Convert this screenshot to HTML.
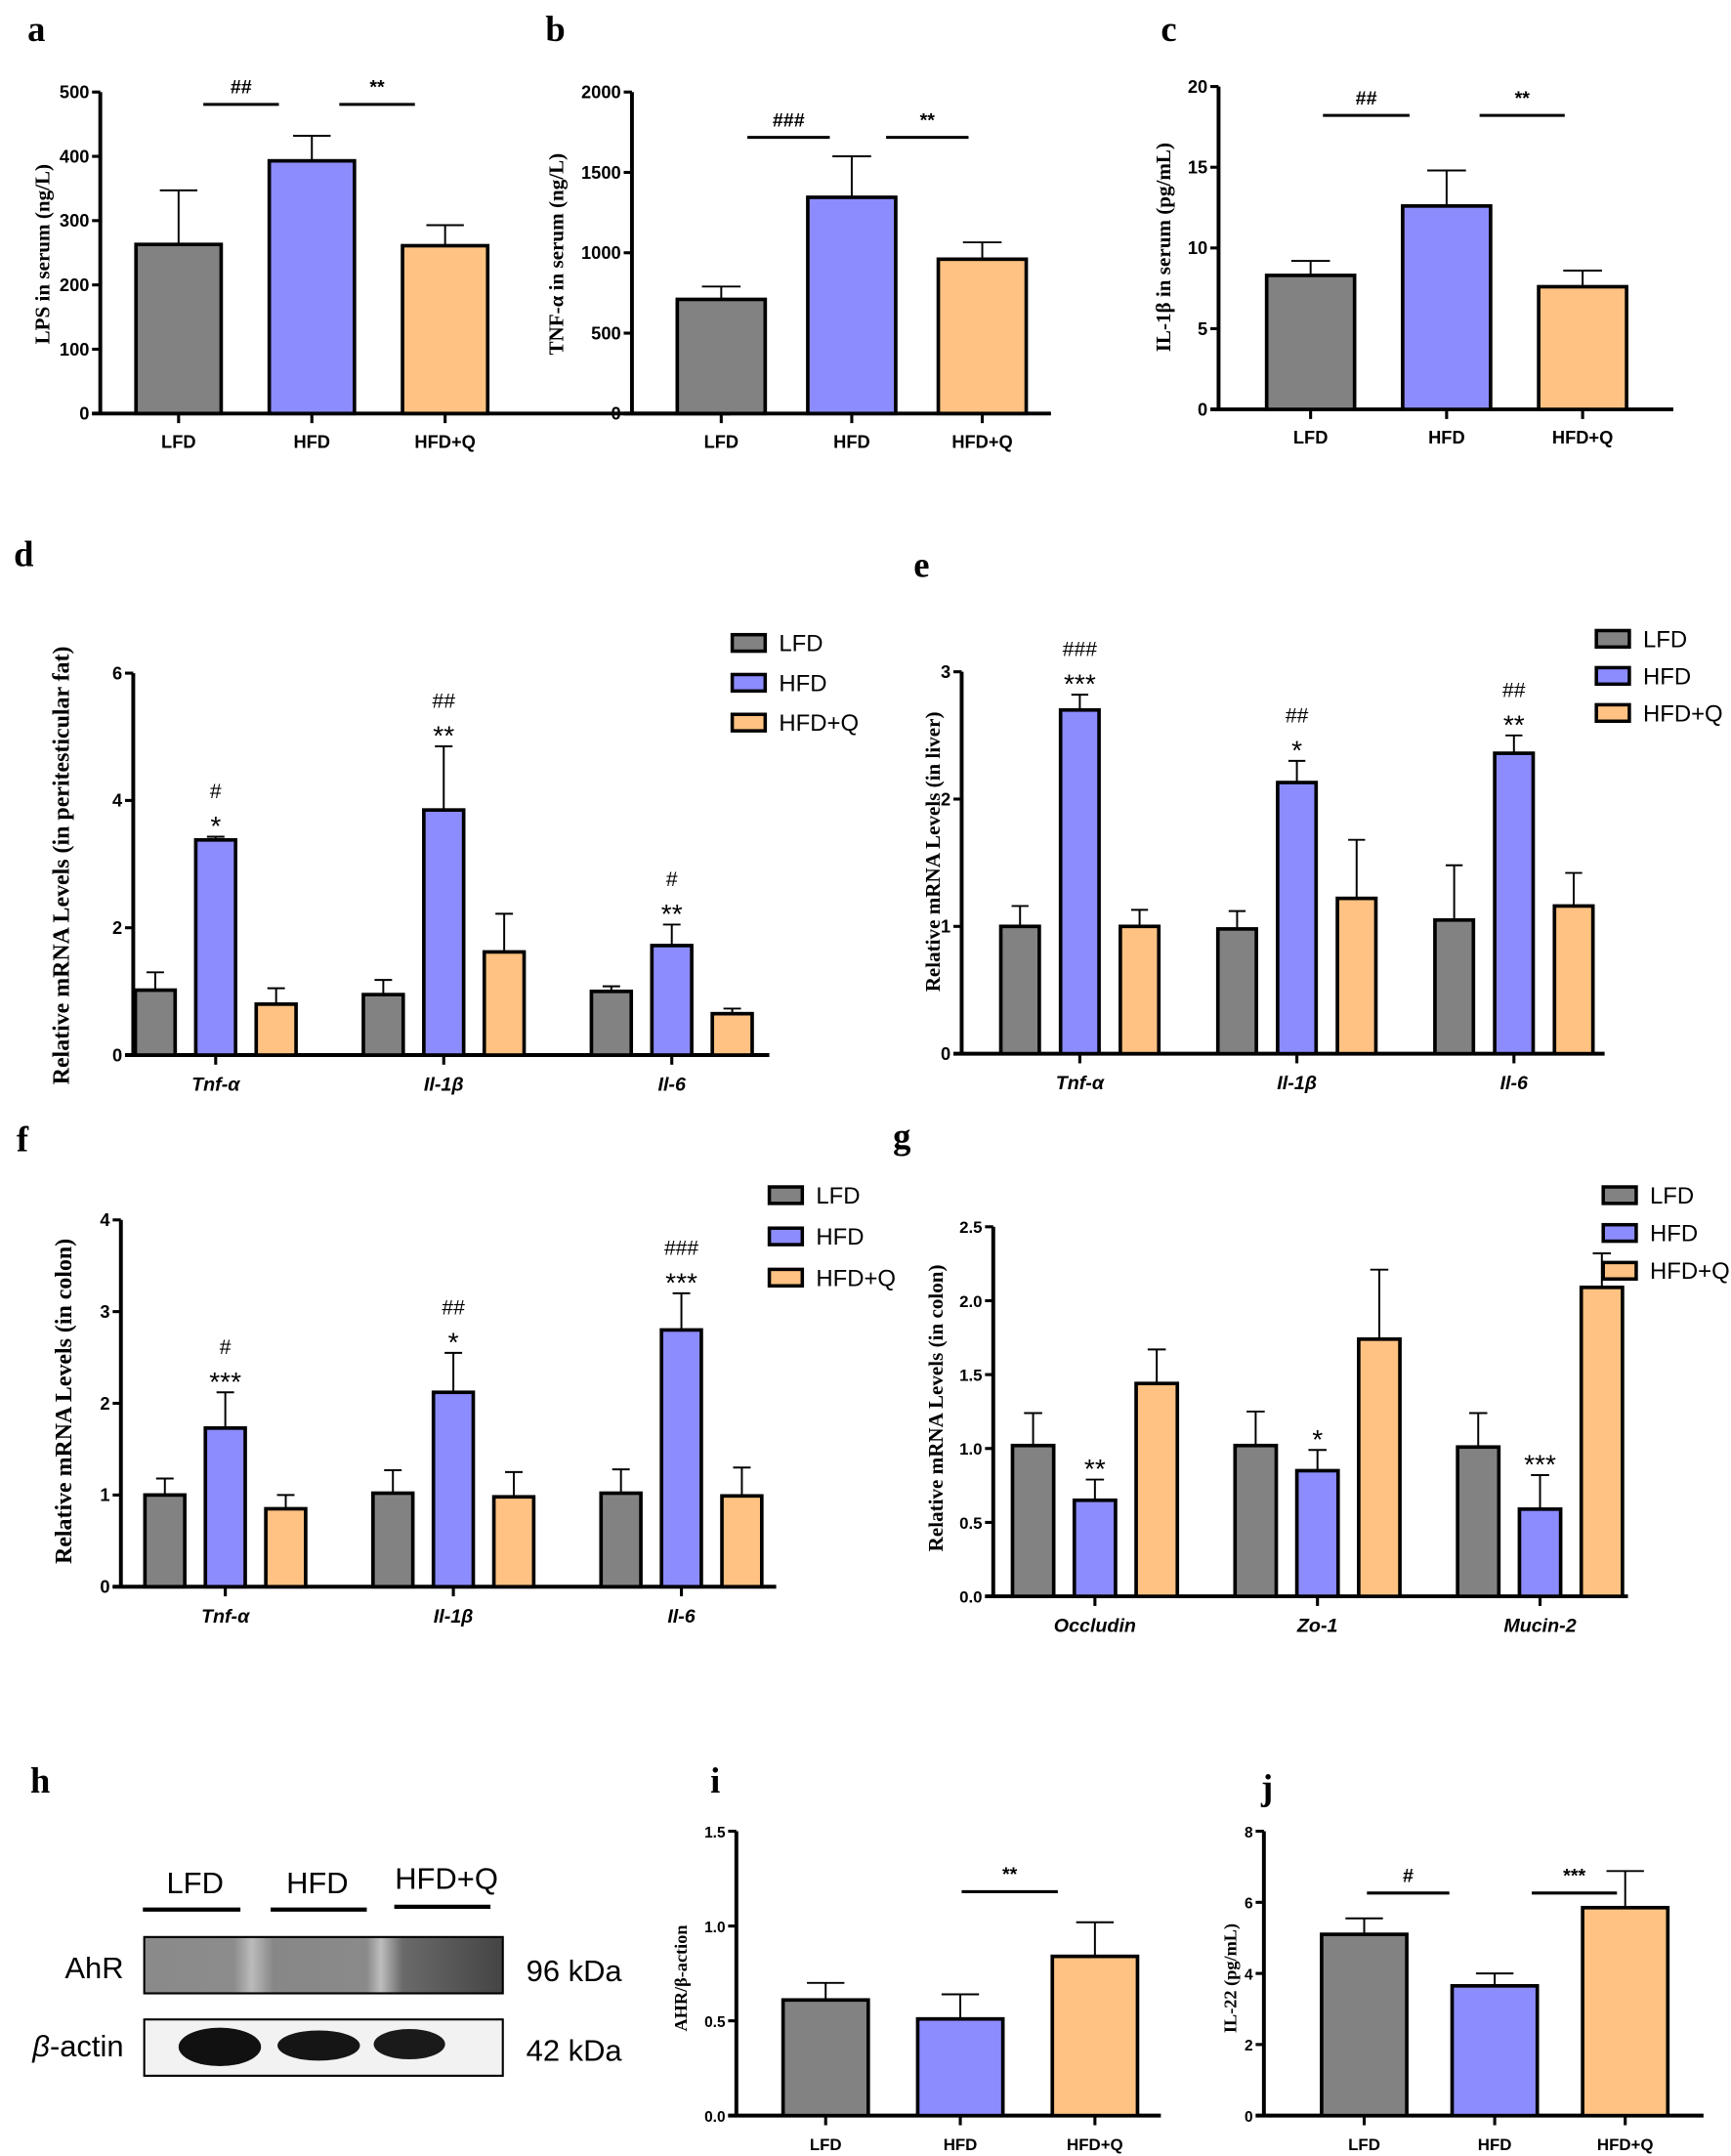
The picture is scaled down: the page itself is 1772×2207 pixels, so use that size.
<!DOCTYPE html>
<html><head><meta charset="utf-8">
<style>
html,body{margin:0;padding:0;background:#fff;}
svg{display:block;}
text{font-family:"Liberation Sans",sans-serif;}
.serif{font-family:"Liberation Serif",serif;font-weight:bold;}
</style></head>
<body>
<svg id="fig" width="1772" height="2207" viewBox="0 0 1260 1569.4" preserveAspectRatio="none" xmlns="http://www.w3.org/2000/svg">
  <g>
    <text x="22" y="1305" class="serif" font-size="26">h</text>
    <text x="142" y="1378" font-size="22" text-anchor="middle">LFD</text>
    <text x="231" y="1378" font-size="22" text-anchor="middle">HFD</text>
    <text x="325" y="1375" font-size="22" text-anchor="middle">HFD+Q</text>
    <line x1="104" y1="1390" x2="175" y2="1390" stroke="#000" stroke-width="3"/>
    <line x1="197" y1="1390" x2="267" y2="1390" stroke="#000" stroke-width="3"/>
    <line x1="287" y1="1388" x2="357" y2="1388" stroke="#000" stroke-width="3"/>
    <defs>
      <linearGradient id="ahrg" x1="0" x2="1" y1="0" y2="0">
        <stop offset="0" stop-color="#8a8a8a"/><stop offset="0.25" stop-color="#8c8c8c"/>
        <stop offset="0.3" stop-color="#bbb"/><stop offset="0.36" stop-color="#878787"/>
        <stop offset="0.62" stop-color="#8a8a8a"/><stop offset="0.66" stop-color="#bdbdbd"/>
        <stop offset="0.72" stop-color="#6a6a6a"/><stop offset="1" stop-color="#444"/>
      </linearGradient>
    </defs>
    <rect x="105" y="1410" width="261" height="41" fill="url(#ahrg)" stroke="#000" stroke-width="1.5"/>
    <rect x="105" y="1470" width="261" height="41" fill="#f2f2f2" stroke="#000" stroke-width="1.5"/>
    <ellipse cx="160" cy="1490" rx="30" ry="14" fill="#111"/>
    <ellipse cx="232" cy="1489" rx="30" ry="11" fill="#151515"/>
    <ellipse cx="298" cy="1488" rx="26" ry="11" fill="#1a1a1a"/>
    <text x="90" y="1440" font-size="22" text-anchor="end">AhR</text>
    <text x="90" y="1497" font-size="22" text-anchor="end"><tspan font-style="italic">β</tspan>-actin</text>
    <text x="383" y="1442" font-size="22">96 kDa</text>
    <text x="383" y="1500" font-size="22">42 kDa</text>
  </g>
</svg>
<script>
// ---- data ----
const groups = ["LFD","HFD","HFD+Q"];
const aMeans = [263, 393, 261];
const aErr = [347, 432, 293];
const bMeans = [710, 1345, 960];
const bErr = [790, 1600, 1065];
const cMeans = [8.3, 12.6, 7.6];
const cErr = [9.2, 14.8, 8.6];
const genesInflam = ["Tnf-α","Il-1β","Il-6"];
const dLFD = [1.02, 0.95, 1.0], dLFDerr = [1.3, 1.18, 1.08];
const dHFD = [3.38, 3.85, 1.72], dHFDerr = [3.43, 4.85, 2.05];
const dHFDQ = [0.8, 1.62, 0.65], dHFDQerr = [1.05, 2.22, 0.73];
const eLFD = [1.0, 0.98, 1.05], eLFDerr = [1.16, 1.12, 1.48];
const eHFD = [2.7, 2.13, 2.36], eHFDerr = [2.82, 2.3, 2.5];
const eHFDQ = [1.0, 1.22, 1.16], eHFDQerr = [1.13, 1.68, 1.42];
const fLFD = [1.0, 1.02, 1.02], fLFDerr = [1.18, 1.27, 1.28];
const fHFD = [1.73, 2.12, 2.8], fHFDerr = [2.12, 2.55, 3.2];
const fHFDQ = [0.85, 0.98, 0.99], fHFDQerr = [1.0, 1.25, 1.3];
const genesBarrier = ["Occludin","Zo-1","Mucin-2"];
const gLFD = [1.02, 1.02, 1.01], gLFDerr = [1.24, 1.25, 1.24];
const gHFD = [0.65, 0.85, 0.59], gHFDerr = [0.79, 0.99, 0.82];
const gHFDQ = [1.44, 1.74, 2.09], gHFDQerr = [1.67, 2.21, 2.32];
const iMeans = [0.61, 0.51, 0.84];
const iErr = [0.7, 0.64, 1.02];
const jMeans = [5.1, 3.65, 5.85];
const jErr = [5.55, 4.0, 6.88];
const aTicks = ["0","100","200","300","400","500"];
const bTicks = ["0","500","1000","1500","2000"];
const cTicks = ["0","5","10","15","20"];
const dTicks = ["0","2","4","6"];
const eTicks = ["0","1","2","3"];
const fTicks = ["0","1","2","3","4"];
const gTicks = ["0.0","0.5","1.0","1.5","2.0","2.5"];
const iTicks = ["0.0","0.5","1.0","1.5"];
const jTicks = ["0","2","4","6","8"];
const dMarks = [["#","*"],["##","**"],["#","**"]];
const eMarks = [["###","***"],["##","*"],["##","**"]];
const fMarks = [["#","***"],["##","*"],["###","***"]];
const gMarks = [["**"],["*"],["***"]];
const COLORS = ["#828282","#8c8cff","#ffc282"];

const NS = "http://www.w3.org/2000/svg";
const svg = document.getElementById("fig");
function mk(tag, attrs, parent){
  const e = document.createElementNS(NS, tag);
  for (const k in attrs) e.setAttribute(k, attrs[k]);
  (parent||svg).appendChild(e);
  return e;
}
function txt(parent, x, y, s, size, extra){
  const t = mk("text", Object.assign({x:x, y:y, "font-size":size, "text-anchor":"middle"}, extra||{}), parent);
  t.textContent = s;
  return t;
}

function axes(p){
  const g = mk("g", {});
  
  
  const lab = txt(g, p.lx, p.ly, p.letter, 26, {"class":"serif","text-anchor":"start"});
  
  
  const yScale = v => p.y0 - (v / p.max) * (p.y0 - p.yTop);
  const yax = mk("line", {x1:p.ax, y1:p.yTop, x2:p.ax, y2:p.y0+1, stroke:"#000","stroke-width":2.8}, g);
  
  
  const xax = mk("line", {x1:p.ax-6, y1:p.y0, x2:p.xEnd, y2:p.y0, stroke:"#000","stroke-width":2.8}, g);
  
  
  const n = p.ticks.length;
  p.ticks.forEach((t, i) => {
    const v = p.max * i / (n-1);
    const y = yScale(v);
    mk("line", {x1:p.ax-6, y1:y, x2:p.ax, y2:y, stroke:"#000","stroke-width":2.2}, g);
    const tl = txt(g, p.ax-8, y+4.5, t, p.tickSize||13, {"text-anchor":"end","font-weight":"bold"});
    
    
  });
  const yt = txt(g, 0, 0, p.ytitle, p.ytSize||15, {"class":"serif", transform:`translate(${p.ytx},${p.yty}) rotate(-90)`});
  
  
  return {g, yScale};
}

function bar(g, yScale, y0, cx, w, val, err, color, name){
  const yb = yScale(val), ye = yScale(err);
  const el = mk("line", {x1:cx, y1:ye, x2:cx, y2:yb, stroke:"#000","stroke-width":1.4}, g);
  
  
  mk("line", {x1:cx-w*0.22, y1:ye, x2:cx+w*0.22, y2:ye, stroke:"#000","stroke-width":1.4}, g);
  const r = mk("rect", {x:cx-w/2, y:yb, width:w, height:y0-yb, fill:color, stroke:"#000","stroke-width":2.6}, g);
  
  
  return yb;
}

function simplePanel(p){
  const {g, yScale} = axes(p);
  p.means.forEach((m, i) => {
    const cx = p.x0 + i*p.dx;
    bar(g, yScale, p.y0, cx, p.bw, m, p.errs[i], COLORS[i], 'bar-' + groups[i].toLowerCase().replace('+','-'));
    mk("line", {x1:cx, y1:p.y0, x2:cx, y2:p.y0+7, stroke:"#000","stroke-width":2.2}, g);
    const xl = txt(g, cx, p.y0+25, groups[i], p.xSize||13, {"font-weight":"bold"});
    
    
  });
  p.sig.forEach(s => {
    const sl = mk("line", {x1:s[0], y1:s[2], x2:s[1], y2:s[2], stroke:"#000","stroke-width":2.2}, g);
    
    
    const st = txt(g, (s[0]+s[1])/2, s[2]-8, s[3], 14, {"font-weight":"bold"});
    
    
  });
}

function groupedPanel(p){
  const {g, yScale} = axes(p);
  p.cats.forEach((c, k) => {
    const gc = p.x0 + k*p.gdx;
    for (let s = 0; s < 3; s++){
      const cx = gc + (s-1)*p.dx;
      bar(g, yScale, p.y0, cx, p.bw, p.series[s][k], p.errs[s][k], COLORS[s], 'bar-' + groups[s].toLowerCase().replace('+','-') + '-' + k);
      if (s === 1){
        const top = yScale(p.errs[1][k]);
        const marks = p.marks[k];
        marks.slice().reverse().forEach((m, j) => {
          const mt = txt(g, cx, top - 8 - j*20, m, m.indexOf('*')>=0 ? 20 : 15, {"dy": m.indexOf('*')>=0 ? 7 : 0});
          
          
        });
      }
    }
    mk("line", {x1:gc, y1:p.y0, x2:gc, y2:p.y0+7, stroke:"#000","stroke-width":2.2}, g);
    const xl = txt(g, gc, p.y0+26, c, 14, {"font-weight":"bold","font-style":"italic"});
    
    
  });
  groups.forEach((gname, i) => {
    const y = p.legY + i*p.legDy;
    const lb = mk("rect", {x:p.legX, y:y-6, width:24, height:12, fill:COLORS[i], stroke:"#000","stroke-width":2.5}, g);
    
    
    const lt = txt(g, p.legX+34, y+6, gname, 17, {"text-anchor":"start"});
    
    
  });
}

simplePanel({name:"panel-a-lps", letter:"a", lx:20, ly:30, ax:73, yTop:67, y0:301, xEnd:532, max:500, ticks:aTicks,
  ytitle:"LPS in serum (ng/L)", ytx:36, yty:185, means:aMeans, errs:aErr, x0:130, dx:97, bw:62,
  sig:[[148,203,76,"##"],[247,302,76,"**"]]});
simplePanel({name:"panel-b-tnf", letter:"b", lx:397, ly:30, ax:460, yTop:67, y0:301, xEnd:765, max:2000, ticks:bTicks,
  ytitle:"TNF-α in serum (ng/L)", ytx:410, yty:185, means:bMeans, errs:bErr, x0:525, dx:95, bw:64,
  sig:[[544,604,100,"###"],[645,705,100,"**"]]});
simplePanel({name:"panel-c-il1b", letter:"c", lx:845, ly:30, ax:887, yTop:63, y0:298, xEnd:1218, max:20, ticks:cTicks,
  ytitle:"IL-1β in serum (pg/mL)", ytx:852, yty:180, means:cMeans, errs:cErr, x0:954, dx:99, bw:64,
  sig:[[963,1026,84,"##"],[1077,1139,84,"**"]]});

groupedPanel({name:"panel-d-fat", letter:"d", lx:10, ly:412, ax:97, yTop:490, y0:768, xEnd:560, max:6, ticks:dTicks, tickSize:13,
  ytitle:"Relative mRNA Levels (in peritesticular fat)", ytSize:17, ytx:50, yty:630, cats:genesInflam,
  series:[dLFD,dHFD,dHFDQ], errs:[dLFDerr,dHFDerr,dHFDQerr], marks:dMarks, x0:157, gdx:166, dx:44, bw:29,
  legX:533, legY:468, legDy:29});
groupedPanel({name:"panel-e-liver", letter:"e", lx:665, ly:420, ax:700, yTop:489, y0:767, xEnd:1168, max:3, ticks:eTicks, tickSize:13,
  ytitle:"Relative mRNA Levels (in liver)", ytSize:15, ytx:684, yty:620, cats:genesInflam,
  series:[eLFD,eHFD,eHFDQ], errs:[eLFDerr,eHFDerr,eHFDQerr], marks:eMarks, x0:786, gdx:158, dx:43.5, bw:28,
  legX:1162, legY:465, legDy:27});
groupedPanel({name:"panel-f-colon", letter:"f", lx:12, ly:838, ax:88, yTop:888, y0:1155, xEnd:565, max:4, ticks:fTicks, tickSize:13,
  ytitle:"Relative mRNA Levels (in colon)", ytSize:17, ytx:52, yty:1020, cats:genesInflam,
  series:[fLFD,fHFD,fHFDQ], errs:[fLFDerr,fHFDerr,fHFDQerr], marks:fMarks, x0:164, gdx:166, dx:44, bw:29,
  legX:560, legY:870, legDy:30});
groupedPanel({name:"panel-g-colon-barrier", letter:"g", lx:650, ly:836, ax:723, yTop:893, y0:1162, xEnd:1185, max:2.5, ticks:gTicks, tickSize:12,
  ytitle:"Relative mRNA Levels (in colon)", ytSize:15, ytx:686, yty:1025, cats:genesBarrier,
  series:[gLFD,gHFD,gHFDQ], errs:[gLFDerr,gHFDerr,gHFDQerr], marks:gMarks, x0:797, gdx:162, dx:45, bw:30,
  legX:1167, legY:870, legDy:27.5});

simplePanel({name:"panel-i-ahr", letter:"i", lx:517, ly:1305, ax:536, yTop:1333, y0:1540, xEnd:845, max:1.5, ticks:iTicks, tickSize:11,
  ytitle:"AHR/β-action", ytSize:13, ytx:500, yty:1440, means:iMeans, errs:iErr, x0:601, dx:98, bw:62, xSize:12,
  sig:[[700,770,1377,"**"]]});
simplePanel({name:"panel-j-il22", letter:"j", lx:918, ly:1310, ax:920, yTop:1333, y0:1540, xEnd:1240, max:8, ticks:jTicks, tickSize:11,
  ytitle:"IL-22 (pg/mL)", ytSize:13, ytx:900, yty:1440, means:jMeans, errs:jErr, x0:993, dx:95, bw:62, xSize:12,
  sig:[[995,1055,1378,"#"],[1115,1177,1378,"***"]]});
</script>
</body></html>
